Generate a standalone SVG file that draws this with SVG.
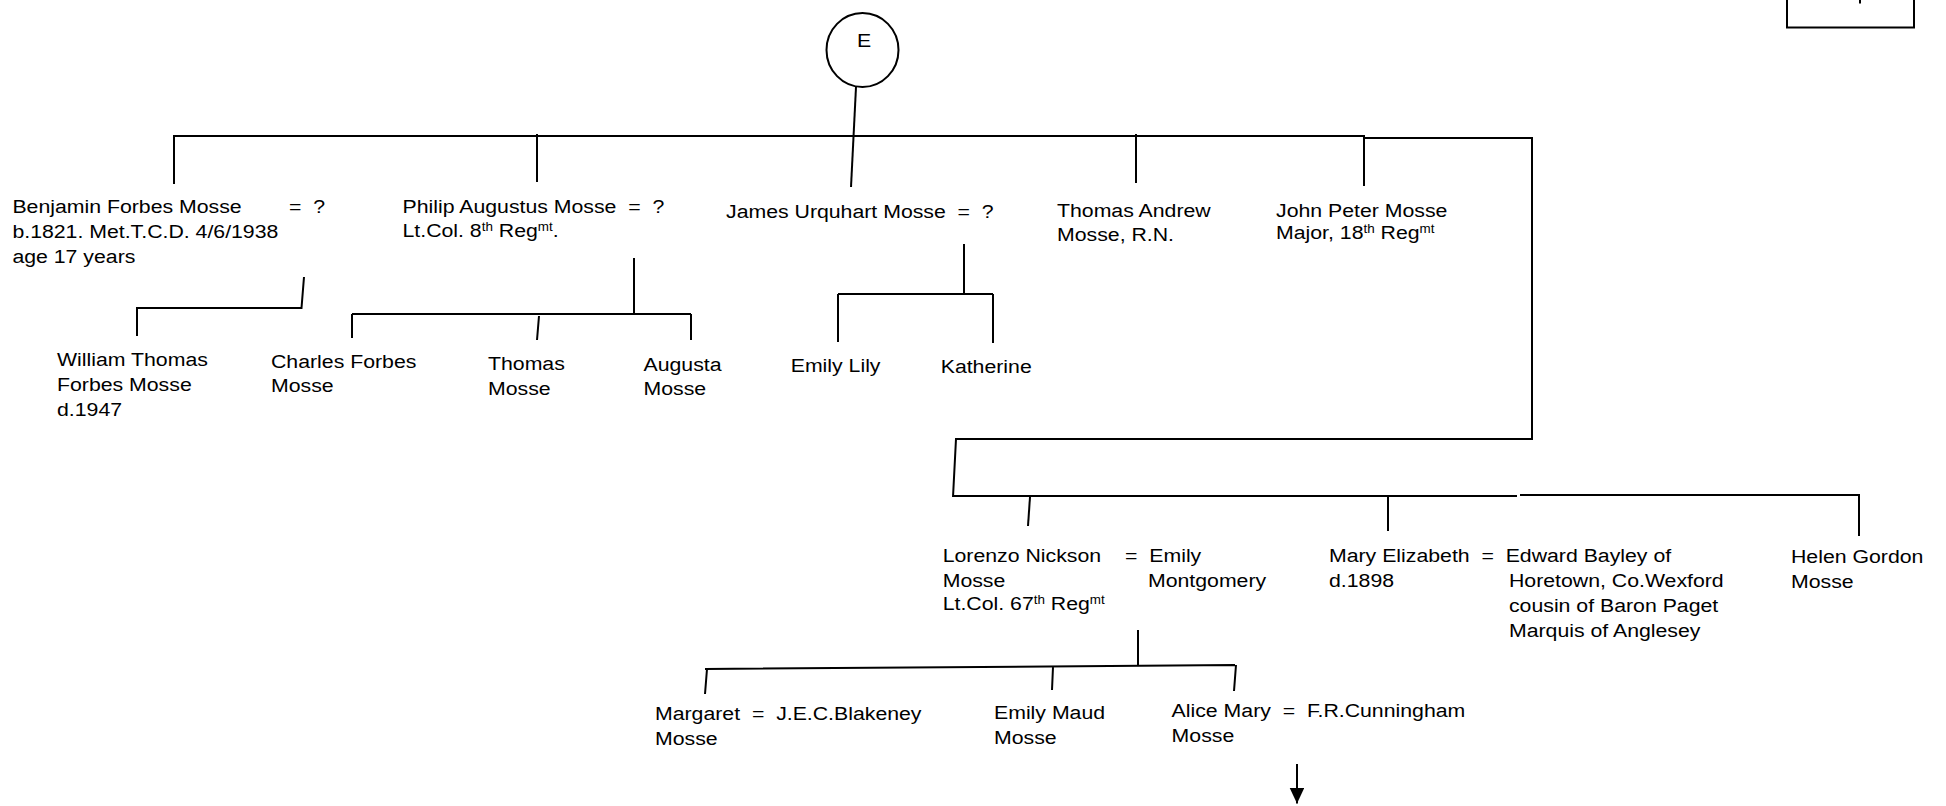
<svg xmlns="http://www.w3.org/2000/svg" width="1946" height="806" viewBox="0 0 1946 806">
<style>
.t{font-family:"Liberation Sans",Arial,sans-serif;font-size:19px;fill:#000;white-space:pre}
.s{font-size:12px}
.ln{fill:none;stroke:#000;stroke-width:2}
</style>
<defs>
<marker id="ah" markerUnits="userSpaceOnUse" markerWidth="16" markerHeight="15" refX="15.5" refY="7.25" orient="auto">
<path d="M0,0 L15.5,7.25 L0,14.5 Z" fill="#000"/>
</marker>
</defs>
<rect width="1946" height="806" fill="#fff"/>
<g id="connectors" class="ln">
<path d="M174,184 V136 H1364 V138 H1532 V439 H956 L953,497"/>
<path d="M537,134 V182"/>
<path d="M856,87 L851,187"/>
<path d="M1136,134 V183"/>
<path d="M1364,138 V186"/>
<path d="M304,277 L301.5,308 H137 V336"/>
<path d="M634,258 V314 M352,314 H691 M352,314 V338 M539,316 L537,340 M691,314 V340"/>
<path d="M964,244 V294 M838,294 H993 M838,294 V342 M993,294 V343"/>
<path d="M953,496 H1517 M1520,495 H1859 V536"/>
<path d="M1030,497 L1028,526"/>
<path d="M1388,496 V531"/>
<path d="M1138,630 V666 M705,669 L1235,665 M707,669 L705,694 M1053,667 L1052,690 M1236,665 L1234,691"/>
<path d="M1297,764 V803.5" marker-end="url(#ah)"/>
</g>
<g id="box-top-right">
<rect x="1787" y="-10" width="127" height="37.5" class="ln"/>
<path d="M1860,0 V3.5" class="ln"/>
</g>
<g id="n-E">
<ellipse cx="862.5" cy="50" rx="36" ry="37" class="ln"/>
<text class="t" transform="translate(864,47) scale(1.12 1)" text-anchor="middle">E</text>
</g>
<g id="n-benjamin" transform="translate(12.4,213)"><text class="t" transform="scale(1.12 1)"><tspan x="0" y="0">Benjamin Forbes Mosse</tspan><tspan x="247" y="0">=  ?</tspan><tspan x="0" y="25">b.1821. Met.T.C.D. 4/6/1938</tspan><tspan x="0" y="50">age 17 years</tspan></text></g>
<g id="n-philip" transform="translate(402.5,213)"><text class="t" transform="scale(1.12 1)"><tspan x="0" y="0">Philip Augustus Mosse  =  ?</tspan><tspan x="0" y="24">Lt.Col. 8</tspan><tspan class="s" dy="-6">th</tspan><tspan dy="6"> Reg</tspan><tspan class="s" dy="-6">mt</tspan><tspan dy="6">.</tspan></text></g>
<g id="n-james" transform="translate(726,218)"><text class="t" transform="scale(1.12 1)"><tspan x="0" y="0">James Urquhart Mosse  =  ?</tspan></text></g>
<g id="n-thomas-andrew" transform="translate(1057,217)"><text class="t" transform="scale(1.12 1)"><tspan x="0" y="0">Thomas Andrew</tspan><tspan x="0" y="24">Mosse, R.N.</tspan></text></g>
<g id="n-john-peter" transform="translate(1276,216.5)"><text class="t" transform="scale(1.12 1)"><tspan x="0" y="0">John Peter Mosse</tspan><tspan x="0" y="23">Major, 18</tspan><tspan class="s" dy="-6">th</tspan><tspan dy="6"> Reg</tspan><tspan class="s" dy="-6">mt</tspan></text></g>
<g id="n-william" transform="translate(57,366)"><text class="t" transform="scale(1.12 1)"><tspan x="0" y="0">William Thomas</tspan><tspan x="0" y="25">Forbes Mosse</tspan><tspan x="0" y="50">d.1947</tspan></text></g>
<g id="n-charles" transform="translate(271,367.5)"><text class="t" transform="scale(1.12 1)"><tspan x="0" y="0">Charles Forbes</tspan><tspan x="0" y="25">Mosse</tspan></text></g>
<g id="n-thomas" transform="translate(488,370)"><text class="t" transform="scale(1.12 1)"><tspan x="0" y="0">Thomas</tspan><tspan x="0" y="25">Mosse</tspan></text></g>
<g id="n-augusta" transform="translate(643.5,370.5)"><text class="t" transform="scale(1.12 1)"><tspan x="0" y="0">Augusta</tspan><tspan x="0" y="25">Mosse</tspan></text></g>
<g id="n-emily-lily" transform="translate(790.7,371.7)"><text class="t" transform="scale(1.12 1)">Emily Lily</text></g>
<g id="n-katherine" transform="translate(940.7,373)"><text class="t" transform="scale(1.12 1)">Katherine</text></g>
<g id="n-lorenzo" transform="translate(942.7,561.7)"><text class="t" transform="scale(1.12 1)"><tspan x="0" y="0">Lorenzo Nickson</tspan><tspan x="162.8" y="0">=  Emily</tspan><tspan x="0" y="25">Mosse</tspan><tspan x="183.3" y="25">Montgomery</tspan><tspan x="0" y="48.5">Lt.Col. 67</tspan><tspan class="s" dy="-6">th</tspan><tspan dy="6"> Reg</tspan><tspan class="s" dy="-6">mt</tspan></text></g>
<g id="n-mary" transform="translate(1329,562)"><text class="t" transform="scale(1.12 1)"><tspan x="0" y="0">Mary Elizabeth  =  Edward Bayley of</tspan><tspan x="0" y="25.5">d.1898</tspan><tspan x="160.7" y="25.5">Horetown, Co.Wexford</tspan><tspan x="160.7" y="50.5">cousin of Baron Paget</tspan><tspan x="160.7" y="75.5">Marquis of Anglesey</tspan></text></g>
<g id="n-helen" transform="translate(1791,563)"><text class="t" transform="scale(1.12 1)"><tspan x="0" y="0">Helen Gordon</tspan><tspan x="0" y="25">Mosse</tspan></text></g>
<g id="n-margaret" transform="translate(655,720)"><text class="t" transform="scale(1.12 1)"><tspan x="0" y="0">Margaret  =  J.E.C.Blakeney</tspan><tspan x="0" y="25">Mosse</tspan></text></g>
<g id="n-emily-maud" transform="translate(994,719)"><text class="t" transform="scale(1.12 1)"><tspan x="0" y="0">Emily Maud</tspan><tspan x="0" y="25">Mosse</tspan></text></g>
<g id="n-alice" transform="translate(1171.6,717)"><text class="t" transform="scale(1.12 1)"><tspan x="0" y="0">Alice Mary  =  F.R.Cunningham</tspan><tspan x="0" y="25">Mosse</tspan></text></g>
</svg>
